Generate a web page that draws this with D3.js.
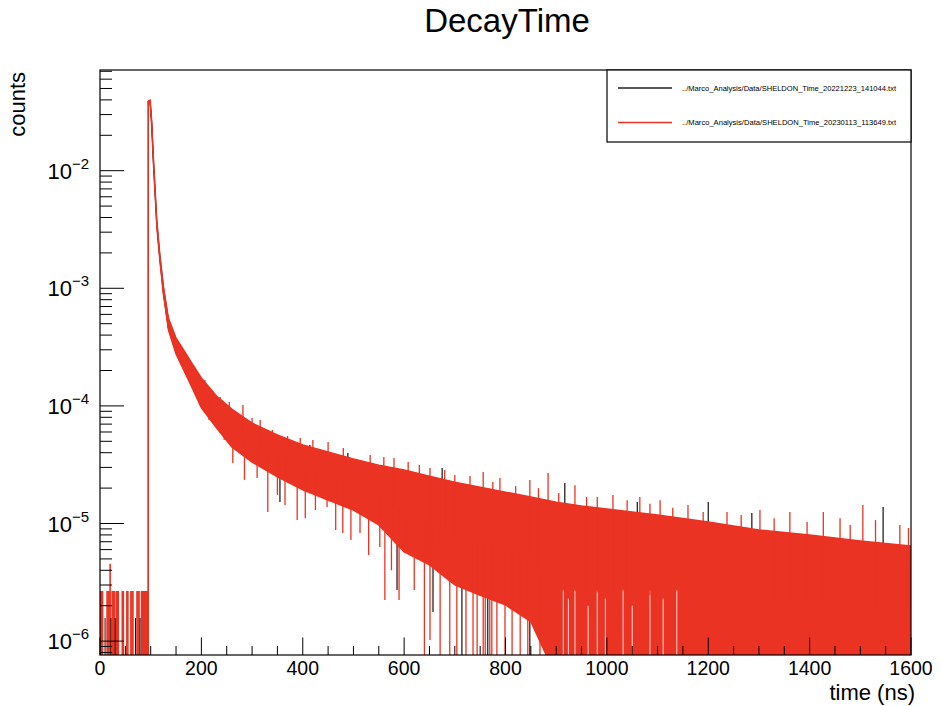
<!DOCTYPE html>
<html>
<head>
<meta charset="utf-8">
<script src="https://cdn.jsdelivr.net/npm/d3@7"></script>
<style>
  body { margin: 0; background: #fff; }
  svg { display: block; font-family: "Liberation Sans", Arial, Helvetica, sans-serif; }
</style>
</head>
<body>
<div id="chart"></div>
<script>
/**
 * DATA
 * envelope of the two noisy histograms plus the spikes that stick out of it
 * */
const seriesNames = [
  "../Marco_Analysis/Data/SHELDON_Time_20221223_141044.txt",
  "../Marco_Analysis/Data/SHELDON_Time_20230113_113649.txt",
];
const xTickLabels = [0, 200, 400, 600, 800, 1000, 1200, 1400, 1600];
const yTickLabels = [-6, -5, -4, -3, -2];

// time of the trigger edge and value of the peak
const riseT = 95.3;
const peakV = 0.0392;

// band of the decay (time in ns, counts)
const bandT = [95.5, 99, 102, 105, 108.5, 112, 118, 125, 135, 150, 165, 180, 200, 230, 260, 300, 350, 400, 450, 500,
  550, 600, 650, 700, 750, 800, 850, 900, 950, 1000, 1100, 1200, 1300, 1400, 1500, 1600];
const redHi = [0.0392, 0.0399, 0.0265, 0.01387, 0.00727, 0.00381, 0.001957, 0.001046, 0.000559, 0.000378, 0.000299,
  0.000236, 0.0001727, 0.0001214, 9.41e-5, 7.15e-5, 5.66e-5, 4.65e-5, 4.06e-5, 3.54e-5,
  3.14e-5, 2.85e-5, 2.53e-5, 2.25e-5, 2.04e-5, 1.85e-5, 1.68e-5, 1.52e-5, 1.41e-5, 1.33e-5, 1.18e-5, 1.03e-5,
  8.81e-6, 7.99e-6, 7.10e-6, 6.44e-6];
const redLo = [0.0370, 0.0369, 0.0240, 0.01233, 0.00646, 0.00339, 0.00174, 0.000894, 0.000442, 0.000276, 0.000202,
  0.0001476, 9.6e-5, 6.49e-5, 4.47e-5, 3.33e-5, 2.49e-5, 1.93e-5, 1.58e-5, 1.30e-5,
  9.71e-6, 5.72e-6, 4.44e-6, 3.0e-6, 2.45e-6, 2.03e-6, 1.46e-6, 5e-7, 5e-7, 5e-7, 5e-7, 5e-7,
  5e-7, 5e-7, 5e-7, 5e-7];
const blackHi = [0.0388, 0.0394, 0.0262, 0.0137, 0.0072, 0.00377, 0.00194, 0.00103, 0.000548, 0.000368, 0.00029,
  0.000228, 0.000166, 0.000116, 9.0e-5, 6.8e-5, 5.4e-5, 4.45e-5, 3.85e-5, 3.35e-5,
  2.98e-5, 2.70e-5, 2.40e-5, 2.12e-5, 1.94e-5, 1.76e-5, 1.60e-5, 1.45e-5, 1.34e-5, 1.26e-5, 1.12e-5, 9.8e-6,
  8.4e-6, 7.6e-6, 6.8e-6, 6.2e-6];
const blackLo = [0.0373, 0.0373, 0.0243, 0.01245, 0.00652, 0.00342, 0.00176, 0.000905, 0.00045, 0.000282, 0.000207,
  0.000152, 9.9e-5, 6.7e-5, 4.6e-5, 3.5e-5, 2.6e-5, 2.0e-5, 1.65e-5, 1.36e-5,
  1.02e-5, 6.0e-6, 4.6e-6, 3.1e-6, 2.55e-6, 2.1e-6, 1.5e-6, 5e-7, 5e-7, 5e-7, 5e-7, 5e-7,
  5e-7, 5e-7, 5e-7, 5e-7];

// spikes above / below the band
const redUpT = [207, 220, 237, 255, 282, 300, 316, 340, 370, 395, 420, 450, 480, 533, 560, 580, 608, 630, 651, 680,
  700, 730, 756, 775, 789, 820, 848, 865, 884, 905, 937, 960, 981, 1012, 1040, 1065, 1085, 1105, 1130, 1160, 1190,
  1237, 1265, 1302, 1330, 1361, 1395, 1427, 1460, 1480, 1505, 1530, 1578, 1595];
const redUpV = [1.66e-4, 1.31e-4, 1.19e-4, 1.08e-4, 1.02e-4, 7.89e-5, 7.6e-5, 6.24e-5, 5.55e-5, 5.33e-5, 5.13e-5,
  4.93e-5, 4.39e-5, 3.82e-5, 3.68e-5, 3.6e-5, 3.33e-5, 3.14e-5, 2.96e-5, 2.85e-5, 2.59e-5, 2.53e-5, 2.74e-5,
  2.25e-5, 2.44e-5, 2.08e-5, 2.34e-5, 2.0e-5, 2.69e-5, 1.82e-5, 2.12e-5, 1.68e-5, 1.68e-5, 1.75e-5, 1.58e-5,
  1.68e-5, 1.47e-5, 1.58e-5, 1.36e-5, 1.44e-5, 1.25e-5, 1.25e-5, 1.18e-5, 1.30e-5, 1.11e-5, 1.25e-5, 1.03e-5,
  1.25e-5, 1.11e-5, 9.7e-6, 1.44e-5, 1.07e-5, 9.7e-6, 9.16e-6];
const redDownT = [215, 245, 262, 285, 310, 331, 350, 365, 389, 405, 425, 448, 465, 479, 495, 513, 530, 552, 562, 575,
  590, 606, 620, 640, 651, 657, 671, 690, 704, 722, 736, 744, 756, 760, 769, 773, 783, 799, 813, 829, 844, 868];
const redDownV = [7.6e-5, 5.13e-5, 3.27e-5, 2.35e-5, 2.44e-5, 1.25e-5, 1.75e-5, 1.44e-5, 1.07e-5, 1.11e-5, 1.30e-5,
  1.38e-5, 8.81e-6, 8.3e-6, 7.24e-6, 8.3e-6, 5.4e-6, 6.32e-6, 2.24e-6, 4.0e-6, 2.24e-6, 6.32e-6, 2.72e-6, 5e-7,
  1.02e-6, 6.32e-6, 5e-7, 5e-7, 5e-7, 5e-7, 5e-7, 5e-7, 5e-7, 5e-7, 5e-7, 5e-7, 5e-7, 5e-7, 5e-7, 5e-7, 5e-7, 5e-7];
const blackUpT = [272, 351, 414, 489, 533, 675, 917, 1060, 1200, 1286, 1545];
const blackUpV = [8.7e-5, 5.66e-5, 4.65e-5, 3.98e-5, 3.27e-5, 2.96e-5, 2.21e-5, 1.52e-5, 1.52e-5, 1.23e-5, 1.38e-5];
const blackDownT = [355, 578, 586, 657, 714, 765, 848];
const blackDownV = [1.52e-5, 7.24e-6, 2.72e-6, 1.77e-6, 5e-7, 5e-7, 5e-7];

// bins in the tail where the red bar stops above the axis
const redGapT = [914, 924, 937, 963, 981, 997, 1032, 1050, 1085, 1111, 1138];
const redGapV = [2.7e-6, 2.3e-6, 2.7e-6, 2.0e-6, 2.7e-6, 2.3e-6, 2.7e-6, 2.0e-6, 2.7e-6, 2.3e-6, 2.7e-6];

// pre-trigger bins (single counts)
const preRedT = [1, 3, 5, 14, 16, 18, 20, 24, 26, 28, 32, 34, 36, 44, 46, 53, 55, 61, 63, 65, 73, 75, 77, 82, 84, 86,
  88, 90, 92, 94];
const preRedV = [2.67e-6, 2.67e-6, 2.67e-6, 2.67e-6, 2.67e-6, 2.67e-6, 4.55e-6, 2.67e-6, 2.67e-6, 2.67e-6, 2.67e-6,
  2.67e-6, 2.67e-6, 2.67e-6, 2.67e-6, 2.67e-6, 2.67e-6, 2.67e-6, 2.67e-6, 2.67e-6, 2.67e-6, 2.67e-6, 2.67e-6,
  2.67e-6, 2.67e-6, 2.67e-6, 2.67e-6, 2.67e-6, 2.67e-6, 2.67e-6];
const preBlackT = [10, 21.5, 30, 70, 79];
const preBlackV = [1.57e-6, 1.57e-6, 1.57e-6, 1.57e-6, 1.57e-6];

/**
 * CONSTANTS
 * */
const width = 941,
  height = 706,
  frame = { left: 100, right: 911, top: 70, bottom: 655 };
const RED = "#ea3323";

const svg = d3.select("#chart").append("svg").attr("width", width).attr("height", height);

const x = d3.scaleLinear().domain([0, 1600]).range([frame.left, frame.right]);
const y = d3.scaleLog().domain([7.62e-7, 0.0718]).range([frame.bottom, frame.top]);

svg.append("clipPath").attr("id", "clip")
  .append("rect")
  .attr("x", frame.left).attr("y", frame.top)
  .attr("width", frame.right - frame.left).attr("height", frame.bottom - frame.top);

const plot = svg.append("g").attr("clip-path", "url(#clip)");

const bandArea = (hi, lo) => d3.area()
  .x(d => x(d))
  .y0((d, i) => y(lo[i]))
  .y1((d, i) => y(hi[i]));

// centre of a band (in log) at any time, used to anchor the spikes
const bandMid = (hi, lo) => {
  const s = d3.scaleLinear().domain(bandT)
    .range(bandT.map((t, i) => (Math.log10(hi[i]) + Math.log10(lo[i])) / 2)).clamp(true);
  return t => Math.pow(10, s(t));
};

function spikes(g, ts, vs, mid, color, w) {
  g.selectAll(null)
    .data(ts)
    .join("line")
    .attr("x1", d => x(d)).attr("x2", d => x(d))
    .attr("y1", d => y(mid(d)))
    .attr("y2", (d, i) => y(vs[i]))
    .attr("stroke", color)
    .attr("stroke-width", w);
}

function bars(g, ts, vs, color, w) {
  g.selectAll(null)
    .data(ts)
    .join("line")
    .attr("x1", d => x(d)).attr("x2", d => x(d))
    .attr("y1", frame.bottom + 2)
    .attr("y2", (d, i) => y(vs[i]))
    .attr("stroke", color)
    .attr("stroke-width", w);
}

// black histogram first, red drawn over it
const blackMid = bandMid(blackHi, blackLo);
const redMid = bandMid(redHi, redLo);

plot.append("line")
  .attr("x1", x(riseT)).attr("x2", x(riseT))
  .attr("y1", frame.bottom + 2).attr("y2", y(peakV))
  .attr("stroke", "#000").attr("stroke-width", 1.2);
plot.append("path")
  .attr("d", bandArea(blackHi, blackLo)(bandT))
  .attr("fill", "#000").attr("stroke", "#000").attr("stroke-width", 1);
spikes(plot.append("g"), blackUpT, blackUpV, blackMid, "#111", 1.2);
spikes(plot.append("g"), blackDownT, blackDownV, blackMid, "#111", 1.2);

bars(plot.append("g"), preRedT, preRedV, RED, 1.6);

plot.append("line")
  .attr("x1", x(riseT)).attr("x2", x(riseT))
  .attr("y1", frame.bottom + 2).attr("y2", y(peakV))
  .attr("stroke", RED).attr("stroke-width", 1.3);
plot.append("path")
  .attr("d", bandArea(redHi, redLo)(bandT))
  .attr("fill", RED).attr("stroke", RED).attr("stroke-width", 1.4);

bars(plot.append("g"), redGapT, redGapV, "#fff", 0.8);
bars(plot.append("g"), preBlackT, preBlackV, "#111", 1);

spikes(plot.append("g"), redUpT, redUpV, redMid, RED, 1.3);
spikes(plot.append("g"), redDownT, redDownV, redMid, RED, 1.3);

/**
 * AXES
 * */
const axes = svg.append("g").attr("stroke", "#000").attr("stroke-width", 1);

// x ticks point up into the frame
axes.selectAll(".xtick")
  .data(d3.range(0, 1601, 50))
  .join("line")
  .attr("x1", d => x(d)).attr("x2", d => x(d))
  .attr("y1", frame.bottom)
  .attr("y2", d => frame.bottom - (d % 200 === 0 ? 17.5 : 9));

// y ticks: decades long, 2..9 short
const yMinor = [];
for (let e = -7; e <= -2; e++) {
  for (let k = 2; k <= 9; k++) {
    const v = k * Math.pow(10, e);
    if (v > y.domain()[0] && v < y.domain()[1]) yMinor.push(v);
  }
}
axes.selectAll(".ytick")
  .data(yTickLabels.map(e => Math.pow(10, e)))
  .join("line")
  .attr("x1", frame.left).attr("x2", frame.left + 24)
  .attr("y1", d => y(d)).attr("y2", d => y(d));
axes.selectAll(".yminor")
  .data(yMinor)
  .join("line")
  .attr("x1", frame.left).attr("x2", frame.left + 12)
  .attr("y1", d => y(d)).attr("y2", d => y(d));

svg.append("rect")
  .attr("x", frame.left).attr("y", frame.top)
  .attr("width", frame.right - frame.left).attr("height", frame.bottom - frame.top)
  .attr("fill", "none").attr("stroke", "#000").attr("stroke-width", 1.2);

svg.selectAll(".xlabel")
  .data(xTickLabels)
  .join("text")
  .attr("x", d => x(d)).attr("y", 675)
  .attr("text-anchor", "middle")
  .attr("font-size", 19.5)
  .text(d => d);

const ylab = svg.selectAll(".ylabel")
  .data(yTickLabels)
  .join("text")
  .attr("x", 89)
  .attr("y", d => y(Math.pow(10, d)) + 8)
  .attr("text-anchor", "end")
  .attr("font-size", 22);
ylab.append("tspan").text("10");
ylab.append("tspan").attr("font-size", 15).attr("dy", -10).text(d => "\u2212" + Math.abs(d));

svg.append("text")
  .attr("x", 915).attr("y", 700)
  .attr("text-anchor", "end")
  .attr("font-size", 22)
  .text("time (ns)");

svg.append("text")
  .attr("transform", "translate(25,72) rotate(-90)")
  .attr("text-anchor", "end")
  .attr("font-size", 22)
  .text("counts");

svg.append("text")
  .attr("x", 507).attr("y", 32)
  .attr("text-anchor", "middle")
  .attr("font-size", 33)
  .text("DecayTime");

/**
 * LEGEND
 * */
const legend = svg.append("g");
legend.append("rect")
  .attr("x", 607).attr("y", frame.top)
  .attr("width", frame.right - 607).attr("height", 72)
  .attr("fill", "#fff").attr("stroke", "#000").attr("stroke-width", 1.2);

const entries = legend.selectAll(".entry")
  .data(seriesNames)
  .join("g")
  .attr("transform", (d, i) => `translate(0,${88 + i * 34.5})`);
entries.append("line")
  .attr("x1", 618).attr("x2", 672)
  .attr("stroke", (d, i) => i === 0 ? "#222" : RED)
  .attr("stroke-width", 1.3);
entries.append("text")
  .attr("x", 682).attr("y", 2.8)
  .attr("font-size", 8)
  .attr("textLength", 214)
  .attr("lengthAdjust", "spacingAndGlyphs")
  .text(d => d);
</script>
</body>
</html>
